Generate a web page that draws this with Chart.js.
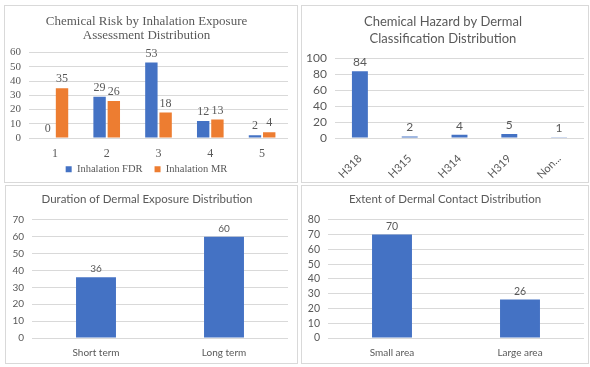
<!DOCTYPE html>
<html lang="en">
<head>
  <meta charset="UTF-8" />
  <title>Exposure Charts</title>
  <script src="https://cdn.jsdelivr.net/npm/chart.js"></script>
  <style>
    body { margin: 0; background: #fff; width: 590px; height: 367px; position: relative; overflow: hidden; }
    .panel { position: absolute; border: 1px solid #d9d9d9; box-sizing: border-box; background: #fff; }
    .panel canvas { display: block; }
  </style>
</head>
<body>
  <div class="panel" style="left:4px;top:5px;width:294px;height:178px"><canvas id="c1"></canvas></div>
  <div class="panel" style="left:301px;top:5px;width:288px;height:178px"><canvas id="c2"></canvas></div>
  <div class="panel" style="left:5px;top:185px;width:293px;height:179px"><canvas id="c3"></canvas></div>
  <div class="panel" style="left:301px;top:185px;width:288px;height:179px"><canvas id="c4"></canvas></div>

  <script>
    // chart 1 - inhalation
    const inhalationCats = ['1', '2', '3', '4', '5'];
    const inhalationFDR = [0, 29, 53, 12, 2];
    const inhalationMR = [35, 26, 18, 13, 4];

    // chart 2 - dermal classification
    const hazardCats = ['H318', 'H315', 'H314', 'H319', 'Non...'];
    const hazardCounts = [84, 2, 4, 5, 1];

    // chart 3 - duration
    const durationCats = ['Short term', 'Long term'];
    const durationCounts = [36, 60];

    // chart 4 - extent
    const extentCats = ['Small area', 'Large area'];
    const extentCounts = [70, 26];

    const BLUE = '#4472c4';
    const ORANGE = '#ed7d31';
    const GREY = '#595959';
    const GRID = '#d9d9d9';
    const SERIF = '"Liberation Serif", "Times New Roman", serif';
    const SANS = 'Lato, "Open Sans", sans-serif';

    Chart.defaults.animation = false;
    Chart.defaults.responsive = false;
    Chart.defaults.color = GREY;
    // only the first chart has a legend, and it is serif
    Chart.defaults.font.family = SERIF;

    // value labels above bars
    const valueLabels = {
      id: 'valueLabels',
      afterDatasetsDraw(chart, args, opts) {
        const ctx = chart.ctx;
        ctx.save();
        ctx.fillStyle = GREY;
        ctx.font = opts.font;
        ctx.textAlign = 'center';
        ctx.textBaseline = 'bottom';
        chart.data.datasets.forEach((ds, i) => {
          chart.getDatasetMeta(i).data.forEach((bar, j) => {
            ctx.fillText(ds.data[j], bar.x, bar.y - opts.offset);
          });
        });
        ctx.restore();
      }
    };

    // pull the legend up a bit so it sits closer to the axis labels
    const liftLegend = {
      id: 'liftLegend',
      afterLayout(chart, args, opts) {
        if (chart.legend && opts.lift) chart.legend.top -= opts.lift;
      }
    };

    function makeChart(id, w, h, cfg) {
      const cv = document.getElementById(id);
      cv.width = w;
      cv.height = h;
      return new Chart(cv.getContext('2d'), {
        type: 'bar',
        data: { labels: cfg.labels, datasets: cfg.datasets },
        plugins: [valueLabels, liftLegend],
        options: {
          layout: { padding: cfg.padding },
          datasets: { bar: { categoryPercentage: cfg.catPct, barPercentage: cfg.barPct } },
          plugins: {
            title: {
              display: true,
              text: cfg.title,
              color: GREY,
              font: { family: cfg.family, size: cfg.titleSize, weight: 'normal', lineHeight: cfg.titleLH },
              padding: cfg.titlePad
            },
            legend: cfg.legend || { display: false },
            tooltip: { enabled: false },
            valueLabels: { font: cfg.valueFont, offset: 3 },
            liftLegend: { lift: cfg.lift || 0 }
          },
          scales: {
            x: {
              grid: { display: false, drawTicks: false, tickLength: 0 },
              border: { display: false },
              ticks: { autoSkip: false, color: GREY, font: { family: cfg.family, size: cfg.xSize }, maxRotation: cfg.rot || 0, minRotation: cfg.rot || 0, padding: cfg.xPad },
              afterFit: scale => { scale.height = cfg.xHeight; }
            },
            y: {
              min: 0,
              max: cfg.max,
              grid: { color: GRID, drawTicks: false },
              border: { display: false },
              ticks: { autoSkip: false, stepSize: cfg.step, color: GREY, font: { family: cfg.family, size: cfg.ySize }, padding: 8 },
              afterFit: scale => { scale.width = cfg.yWidth; }
            }
          }
        }
      });
    }

    makeChart('c1', 292, 176, {
      labels: inhalationCats,
      datasets: [
        { label: 'Inhalation FDR', data: inhalationFDR, backgroundColor: BLUE },
        { label: 'Inhalation MR', data: inhalationMR, backgroundColor: ORANGE }
      ],
      title: ['Chemical Risk by Inhalation Exposure', 'Assessment Distribution'],
      family: SERIF, titleSize: 13, titleLH: 1.1,
      titlePad: { top: 8, bottom: 10 },
      padding: { left: 0, right: 9, top: 0, bottom: 0 },
      catPct: 0.55, barPct: 0.87,
      max: 60, step: 10, yWidth: 24,
      xSize: 12, ySize: 11, xPad: 9, xHeight: 22,
      valueFont: '12px ' + SERIF,
      lift: 8,
      legend: {
        display: true,
        position: 'bottom',
        maxHeight: 22,
        labels: { boxWidth: 6, boxHeight: 6, padding: 12, color: GREY, font: { family: SERIF, size: 10.5, weight: 'normal' } }
      }
    });

    makeChart('c2', 286, 176, {
      labels: hazardCats,
      datasets: [{ label: 'Count', data: hazardCounts, backgroundColor: BLUE }],
      title: ['Chemical Hazard by Dermal', 'Classification Distribution'],
      family: SANS, titleSize: 13, titleLH: 1.25,
      titlePad: { top: 8, bottom: 12 },
      padding: { left: 0, right: 4, top: 0, bottom: 0 },
      catPct: 0.4, barPct: 0.8,
      max: 100, step: 20, yWidth: 33,
      xSize: 11, ySize: 12, xPad: 14, xHeight: 44, rot: 45,
      valueFont: '12px ' + SANS
    });

    makeChart('c3', 291, 177, {
      labels: durationCats,
      datasets: [{ label: 'Count', data: durationCounts, backgroundColor: BLUE }],
      title: 'Duration of Dermal Exposure Distribution',
      family: SANS, titleSize: 11.5, titleLH: 1.2,
      titlePad: { top: 6, bottom: 14 },
      padding: { left: 0, right: 9, top: 0, bottom: 0 },
      catPct: 0.39, barPct: 0.8,
      max: 70, step: 10, yWidth: 26,
      xSize: 10, ySize: 10, xPad: 9, xHeight: 25,
      valueFont: '10px ' + SANS
    });

    makeChart('c4', 286, 177, {
      labels: extentCats,
      datasets: [{ label: 'Count', data: extentCounts, backgroundColor: BLUE }],
      title: 'Extent of Dermal Contact Distribution',
      family: SANS, titleSize: 11.5, titleLH: 1.2,
      titlePad: { top: 6, bottom: 14 },
      padding: { left: 4, right: 4, top: 0, bottom: 0 },
      catPct: 0.39, barPct: 0.8,
      max: 80, step: 10, yWidth: 22,
      xSize: 10, ySize: 10.5, xPad: 9, xHeight: 25,
      valueFont: '10.5px ' + SANS
    });
  </script>
</body>
</html>
